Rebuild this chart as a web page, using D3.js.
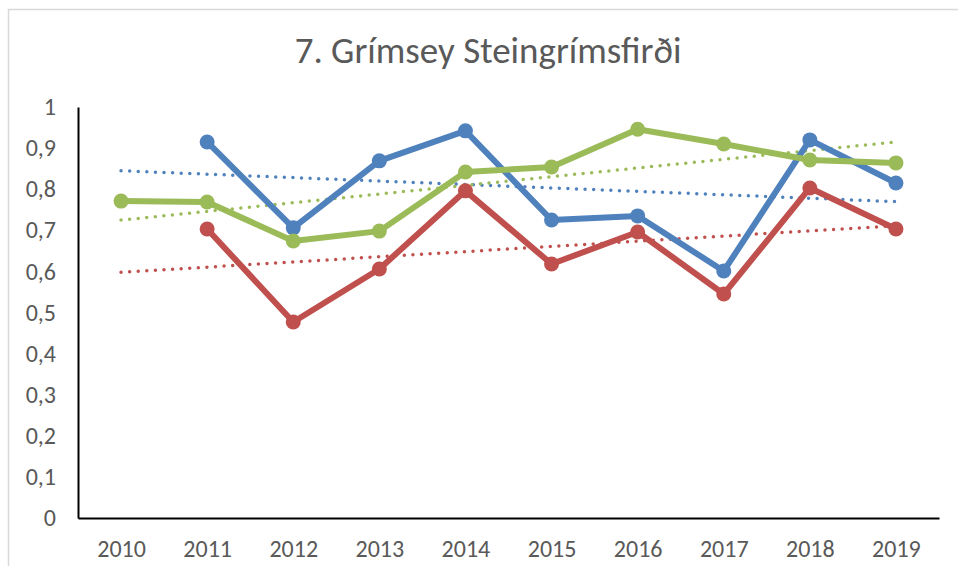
<!DOCTYPE html>
<html>
<head>
<meta charset="utf-8">
<script src="https://cdn.jsdelivr.net/npm/d3@7"></script>
<style>
  body { margin: 0; background: #fff; }
  svg { display: block; }
</style>
</head>
<body>
<div id="chart"></div>
<script>
// chart data
var years = [2010, 2011, 2012, 2013, 2014, 2015, 2016, 2017, 2018, 2019];
var blueValues  = [null, 0.915, 0.706, 0.869, 0.942, 0.725, 0.735, 0.601, 0.920, 0.815];
var redValues   = [null, 0.703, 0.477, 0.606, 0.796, 0.618, 0.696, 0.545, 0.803, 0.703];
var greenValues = [0.771, 0.769, 0.674, 0.698, 0.842, 0.854, 0.946, 0.910, 0.871, 0.864];
var yTicks = [0, 0.1, 0.2, 0.3, 0.4, 0.5, 0.6, 0.7, 0.8, 0.9, 1];
var title = "7. Grímsey Steingrímsfirði";

var width = 958;
var height = 566;
var labelFont = "Carlito, 'Liberation Sans Narrow', 'Liberation Sans', sans-serif";

var series = [
  { name: "blue",  values: blueValues,  color: "#4F81BD" },
  { name: "red",   values: redValues,   color: "#C0504D" },
  { name: "green", values: greenValues, color: "#9BBB59" }
];

var svg = d3.select("#chart").append("svg")
  .attr("width", width)
  .attr("height", height);

// chart area frame (only left and top edges are inside the crop)
svg.append("path")
  .attr("d", "M8.5," + height + "V9.5H" + width)
  .attr("fill", "none")
  .attr("stroke", "#d9d9d9")
  .attr("stroke-width", 1.5);

svg.append("text")
  .attr("x", 488)
  .attr("y", 63)
  .attr("text-anchor", "middle")
  .attr("fill", "#595959")
  .style("font-family", labelFont)
  .style("font-size", "37px")
  .style("font-weight", 300)
  .text(title);

var plotLeft = 78, plotRight = 939;
var xScale = d3.scalePoint()
  .domain(years)
  .range([plotLeft, plotRight])
  .padding(0.5);

var yScale = d3.scaleLinear()
  .domain([0, 1])
  .range([518, 107]);

// y axis
var yAxis = svg.append("g")
  .attr("transform", "translate(" + plotLeft + ",0)")
  .call(d3.axisLeft(yScale).tickValues(yTicks).tickSize(0).tickPadding(22)
    .tickFormat(function (d) { return d3.format(".1~f")(d).replace(".", ","); }));
yAxis.select(".domain").attr("stroke", "#000").attr("stroke-width", 2);
yAxis.selectAll("text")
  .attr("fill", "#595959")
  .style("font-family", labelFont)
  .style("font-size", "24px");

// x axis
var xAxis = svg.append("g")
  .attr("transform", "translate(0," + yScale(0) + ")")
  .call(d3.axisBottom(xScale).tickSize(0).tickPadding(22));
xAxis.select(".domain").attr("stroke", "#000").attr("stroke-width", 2);
xAxis.selectAll("text")
  .attr("fill", "#595959")
  .style("font-family", labelFont)
  .style("font-size", "24px");

// linear trend (least squares over the points that exist), drawn across all years
function trend(values) {
  var pts = [];
  values.forEach(function (v, i) { if (v != null) pts.push([years[i], v]); });
  var mx = d3.mean(pts, function (p) { return p[0]; });
  var my = d3.mean(pts, function (p) { return p[1]; });
  var sxy = d3.sum(pts, function (p) { return (p[0] - mx) * (p[1] - my); });
  var sxx = d3.sum(pts, function (p) { return (p[0] - mx) * (p[0] - mx); });
  var b = sxy / sxx;
  return function (x) { return my + b * (x - mx); };
}

var line = d3.line()
  .defined(function (d) { return d[1] != null; })
  .x(function (d) { return xScale(d[0]); })
  .y(function (d) { return yScale(d[1]); });

var first = years[0], last = years[years.length - 1];

series.forEach(function (s) {
  var f = trend(s.values);
  svg.append("line")
    .attr("x1", xScale(first)).attr("y1", yScale(f(first)))
    .attr("x2", xScale(last)).attr("y2", yScale(f(last)))
    .attr("stroke", s.color)
    .attr("stroke-width", 3.5)
    .attr("stroke-linecap", "round")
    .attr("stroke-dasharray", "0 8.6");
});

series.forEach(function (s) {
  var pts = years.map(function (y, i) { return [y, s.values[i]]; });
  svg.append("path")
    .datum(pts)
    .attr("d", line)
    .attr("fill", "none")
    .attr("stroke", s.color)
    .attr("stroke-width", 6)
    .attr("stroke-linejoin", "round");

  svg.selectAll(".dot-" + s.name)
    .data(pts.filter(function (d) { return d[1] != null; }))
    .enter().append("circle")
    .attr("class", "dot-" + s.name)
    .attr("cx", function (d) { return xScale(d[0]); })
    .attr("cy", function (d) { return yScale(d[1]); })
    .attr("r", 7.5)
    .attr("fill", s.color);
});
</script>
</body>
</html>
